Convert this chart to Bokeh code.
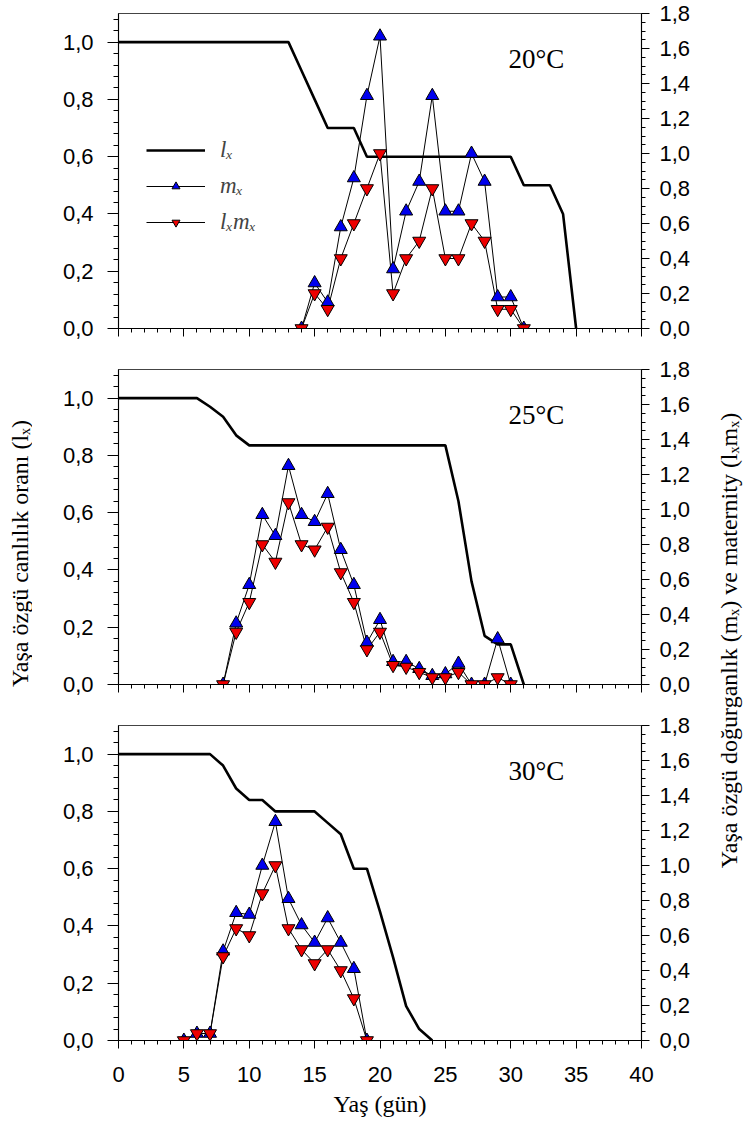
from math import pi
from bokeh.plotting import figure
from bokeh.models import (Range1d, LinearAxis, FixedTicker, CustomJSTickFormatter,
                          Label, Legend, LegendItem)
from bokeh.layouts import row, column
from bokeh.embed import file_html
from bokeh.resources import INLINE

# ---------------- data ----------------
panel_labels = ["20°C", "25°C", "30°C"]

# 20 °C
age_lx_20 = [0, 1, 2, 3, 4, 5, 6, 7, 8, 9, 10, 11, 12, 13, 14, 15, 16, 17, 18, 19,
             20, 21, 22, 23, 24, 25, 26, 27, 28, 29, 30, 31, 32, 33, 34, 35]
lx_20 = [1.0, 1.0, 1.0, 1.0, 1.0, 1.0, 1.0, 1.0, 1.0, 1.0, 1.0, 1.0, 1.0, 1.0, 0.9, 0.8,
         0.7, 0.7, 0.7, 0.6, 0.6, 0.6, 0.6, 0.6, 0.6, 0.6, 0.6, 0.6, 0.6, 0.6, 0.6,
         0.5, 0.5, 0.5, 0.4, 0.0]
age_m_20 = [14, 15, 16, 17, 18, 19, 20, 21, 22, 23, 24, 25, 26, 27, 28, 29, 30, 31]
mx_20 = [0.0, 0.26, 0.15, 0.58, 0.86, 1.33, 1.67, 0.34, 0.67, 0.84, 1.33, 0.67, 0.67,
         1.0, 0.84, 0.18, 0.18, 0.0]
lxmx_20 = [0.0, 0.20, 0.11, 0.40, 0.60, 0.80, 1.0, 0.20, 0.40, 0.50, 0.80, 0.40, 0.40,
           0.60, 0.50, 0.11, 0.11, 0.0]

# 25 °C
age_lx_25 = [0, 1, 2, 3, 4, 5, 6, 7, 8, 9, 10, 11, 12, 13, 14, 15, 16, 17, 18, 19,
             20, 21, 22, 23, 24, 25, 26, 27, 28, 29, 30, 31]
lx_25 = [1.0, 1.0, 1.0, 1.0, 1.0, 1.0, 1.0, 0.97, 0.935, 0.87, 0.835, 0.835, 0.835,
         0.835, 0.835, 0.835, 0.835, 0.835, 0.835, 0.835, 0.835, 0.835, 0.835, 0.835,
         0.835, 0.835, 0.64, 0.36, 0.17, 0.14, 0.14, 0.0]
age_m_25 = [8, 9, 10, 11, 12, 13, 14, 15, 16, 17, 18, 19, 20, 21, 22, 23, 24, 25, 26,
            27, 28, 29, 30]
mx_25 = [0.0, 0.35, 0.57, 0.97, 0.85, 1.25, 0.97, 0.93, 1.09, 0.77, 0.57, 0.24, 0.37,
         0.13, 0.13, 0.09, 0.05, 0.06, 0.12, 0.0, 0.0, 0.26, 0.0]
lxmx_25 = [0.0, 0.30, 0.47, 0.80, 0.70, 1.04, 0.80, 0.77, 0.90, 0.64, 0.47, 0.20, 0.30,
           0.11, 0.10, 0.07, 0.04, 0.04, 0.07, 0.0, 0.0, 0.04, 0.0]

# 30 °C
age_lx_30 = [0, 1, 2, 3, 4, 5, 6, 7, 8, 9, 10, 11, 12, 13, 14, 15, 16, 17, 18, 19,
             20, 21, 22, 23, 24]
lx_30 = [1.0, 1.0, 1.0, 1.0, 1.0, 1.0, 1.0, 1.0, 0.96, 0.88, 0.84, 0.84, 0.80, 0.80,
         0.80, 0.80, 0.76, 0.72, 0.60, 0.60, 0.45, 0.29, 0.12, 0.04, 0.0]
age_m_30 = [5, 6, 7, 8, 9, 10, 11, 12, 13, 14, 15, 16, 17, 18, 19]
mx_30 = [0.0, 0.04, 0.04, 0.51, 0.73, 0.72, 1.0, 1.25, 0.81, 0.66, 0.56, 0.70, 0.56,
         0.41, 0.0]
lxmx_30 = [0.0, 0.04, 0.04, 0.48, 0.64, 0.60, 0.84, 1.0, 0.64, 0.52, 0.44, 0.52, 0.40,
           0.24, 0.0]

x_ticks = [0, 5, 10, 15, 20, 25, 30, 35, 40]
left_ticks = [0.0, 0.2, 0.4, 0.6, 0.8, 1.0]
right_ticks = [0.0, 0.2, 0.4, 0.6, 0.8, 1.0, 1.2, 1.4, 1.6, 1.8]

# ---------------- styling helpers ----------------
TICK_FONT = "Liberation Sans"
SERIF = "Liberation Serif"
comma_fmt = CustomJSTickFormatter(code="return tick.toFixed(1).replace('.', ',');")

x_minor = [v for v in range(0, 41) if v % 5 != 0]
left_minor = [round(0.04 * i, 2) for i in range(1, 28) if i % 5 != 0]
right_minor = [round(0.05 * i, 2) for i in range(1, 37) if i % 4 != 0]

FRAME_W = 523
FRAME_H = 315
BL, BR, BT = 86, 70, 13


def style_axis(ax):
    ax.axis_line_color = "black"
    ax.axis_line_width = 1
    ax.major_tick_line_color = "black"
    ax.minor_tick_line_color = "black"
    ax.major_tick_in = 0
    ax.minor_tick_in = 0
    ax.major_label_text_font = TICK_FONT
    ax.major_label_text_font_size = "22px"
    ax.major_label_text_color = "black"


def make_panel(age_lx, lx, age_m, mx, lxmx, label, bottom_border, show_x_labels):
    h = BT + FRAME_H + bottom_border
    p = figure(width=BL + FRAME_W + BR, height=h,
               x_range=Range1d(0, 40), y_range=Range1d(0, 1.1),
               output_backend="svg", toolbar_location=None,
               min_border_left=BL, min_border_right=BR,
               min_border_top=BT, min_border_bottom=bottom_border)
    p.extra_y_ranges = {"m": Range1d(0, 1.8)}
    p.xgrid.visible = False
    p.ygrid.visible = False
    p.outline_line_color = "#444444"
    p.outline_line_width = 1.2
    p.background_fill_color = "white"
    p.border_fill_color = "white"

    # x axis
    xa = p.xaxis[0]
    style_axis(xa)
    xa.ticker = FixedTicker(ticks=x_ticks, minor_ticks=x_minor)
    xa.major_tick_out = 8
    xa.minor_tick_out = 4
    if show_x_labels:
        xa.major_label_standoff = 18
        xa.axis_label = "Yaş (gün)"
        xa.axis_label_text_font = SERIF
        xa.axis_label_text_font_size = "24px"
        xa.axis_label_text_font_style = "normal"
        xa.axis_label_text_color = "black"
        xa.axis_label_standoff = 6
    else:
        xa.major_label_standoff = 0
        xa.major_label_text_font_size = "1px"
        xa.formatter = CustomJSTickFormatter(code="return '';")

    # left axis
    ya = p.yaxis[0]
    style_axis(ya)
    ya.ticker = FixedTicker(ticks=left_ticks, minor_ticks=left_minor)
    ya.formatter = comma_fmt
    ya.major_tick_out = 11
    ya.minor_tick_out = 5
    ya.major_label_standoff = 14

    # right axis
    ra = LinearAxis(y_range_name="m")
    style_axis(ra)
    ra.ticker = FixedTicker(ticks=right_ticks, minor_ticks=right_minor)
    ra.formatter = comma_fmt
    ra.major_tick_out = 8
    ra.minor_tick_out = 4
    ra.major_label_standoff = 10
    p.add_layout(ra, "right")

    # glyphs
    r_lx = p.line(age_lx, lx, line_color="black", line_width=2.6)
    r_ml = p.line(age_m, mx, y_range_name="m", line_color="black", line_width=1)
    r_rl = p.line(age_m, lxmx, y_range_name="m", line_color="black", line_width=1)
    r_mp = p.scatter(age_m, mx, y_range_name="m", marker="triangle", size=13,
                     fill_color="#0000ee", line_color="black", line_width=1)
    r_rp = p.scatter(age_m, lxmx, y_range_name="m", marker="inverted_triangle", size=13,
                     fill_color="#ee0000", line_color="black", line_width=1)

    p.add_layout(Label(x=FRAME_W - 133, y=FRAME_H - 45, x_units="screen", y_units="screen",
                       text=label, text_font=SERIF, text_font_size="27px",
                       text_baseline="middle", text_align="left", text_color="black"))
    return p, (r_lx, r_ml, r_mp, r_rl, r_rp)


p1, r1 = make_panel(age_lx_20, lx_20, age_m_20, mx_20, lxmx_20, panel_labels[0], 28, False)
p2, _ = make_panel(age_lx_25, lx_25, age_m_25, mx_25, lxmx_25, panel_labels[1], 28, False)
p3, _ = make_panel(age_lx_30, lx_30, age_m_30, mx_30, lxmx_30, panel_labels[2], 90, True)

legend = Legend(items=[LegendItem(label="lₓ", renderers=[r1[0]]),
                       LegendItem(label="mₓ", renderers=[r1[1], r1[2]]),
                       LegendItem(label="lₓmₓ", renderers=[r1[3], r1[4]])],
                location=(28, 93), border_line_color=None, background_fill_alpha=0,
                label_text_font=SERIF, label_text_font_style="italic",
                label_text_font_size="23px", glyph_width=59, glyph_height=20,
                label_height=20, spacing=10, padding=0, margin=0, label_standoff=15)
p1.add_layout(legend)

total_h = p1.height + p2.height + p3.height


def title_fig(w, text, xfrac, yfrac):
    f = figure(width=w, height=total_h, x_range=Range1d(0, 1), y_range=Range1d(0, 1),
               output_backend="svg", toolbar_location=None, min_border=0,
               x_axis_type=None, y_axis_type=None)
    f.outline_line_color = None
    f.xgrid.visible = False
    f.ygrid.visible = False
    f.add_layout(Label(x=xfrac, y=yfrac, text=text, angle=pi / 2, text_align="center",
                       text_baseline="middle", text_font=SERIF, text_font_size="24px",
                       text_color="black"))
    return f


left_title = title_fig(32, "Yaşa özgü canlılık oranı (lₓ)", 0.6, (total_h - 553) / total_h)
right_title = title_fig(34, "Yaşa özgü doğurganlık (mₓ) ve maternity (lₓmₓ)", 0.5,
                        (total_h - 640) / total_h)

layout = row(left_title, column(p1, p2, p3), right_title)

open("out.html", "w").write(file_html(layout, INLINE))
